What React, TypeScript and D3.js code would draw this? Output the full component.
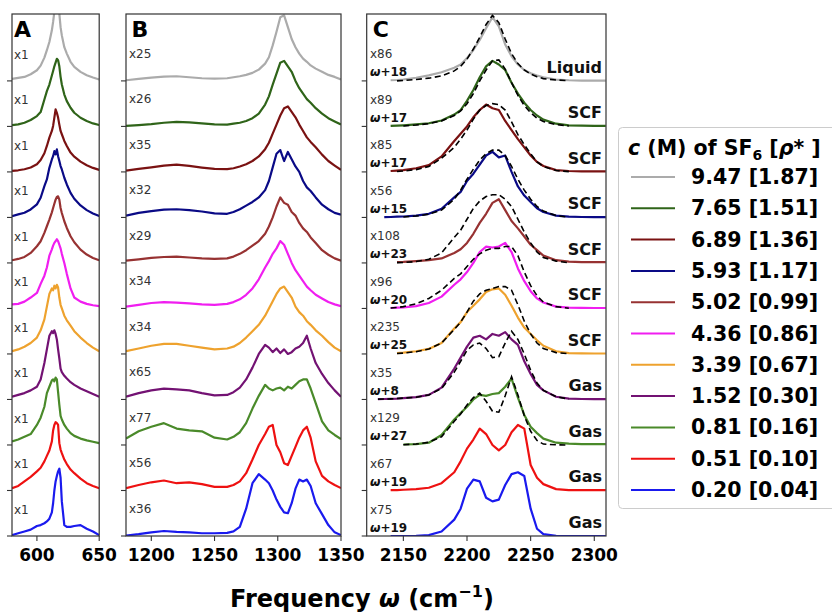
import React from 'react';
import * as d3 from 'd3';

// ---------- DATA ----------
const legendLabels = ['9.47 [1.87]', '7.65 [1.51]', '6.89 [1.36]', '5.93 [1.17]', '5.02 [0.99]', '4.36 [0.86]', '3.39 [0.67]', '1.52 [0.30]', '0.81 [0.16]', '0.51 [0.10]', '0.20 [0.04]'];
const colors = ['#ababab', '#2f6419', '#7a1212', '#0a0a86', '#973232', '#f01ef0', '#eea22e', '#731273', '#4a8a2a', '#ee1111', '#1a1aee'];

const aScaleLabels = ['x1', 'x1', 'x1', 'x1', 'x1', 'x1', 'x1', 'x1', 'x1', 'x1', 'x1'];
const bScaleLabels = ['x25', 'x26', 'x35', 'x32', 'x29', 'x34', 'x34', 'x65', 'x77', 'x56', 'x36'];
const cScaleLabels = ['x86', 'x89', 'x85', 'x56', 'x108', 'x96', 'x235', 'x35', 'x129', 'x67', 'x75'];
const cShiftLabels = ['+18', '+17', '+17', '+15', '+23', '+20', '+25', '+8', '+27', '+19', '+19'];
const phaseLabels = ['Liquid', 'SCF', 'SCF', 'SCF', 'SCF', 'SCF', 'SCF', 'Gas', 'Gas', 'Gas', 'Gas'];

const aTicks = [600, 650];
const bTicks = [1200, 1250, 1300, 1350];
const cTicks = [2150, 2200, 2250, 2300];

// Panel A
const aFreq = [580, 585, 590, 595, 600, 603, 606, 608, 610, 612, 613, 614, 615, 616, 617, 618, 619, 620, 622, 624, 627, 630, 635, 640, 645, 650];
const aGray = [2.2, 3.3, 4.4, 7.3, 11.7, 16.8, 25.6, 33.7, 42.8, 55.6, 64.8, 75.8, 86.7, 92, 88, 74, 59, 50, 37, 30, 21, 15.4, 9.9, 6.2, 3.7, 1.5];
const aGreen = [1.5, 2.2, 4, 7, 11.3, 15.7, 29.6, 38.8, 46, 56, 60.8, 66, 70, 74.3, 72.8, 66, 54.5, 46, 35, 27.8, 20.5, 15, 9.5, 5.9, 3.3, 1.5];
const aDarkRed = [1.1, 1.8, 2.9, 4.8, 8.4, 13, 20.5, 28.5, 37.7, 45, 50.5, 59.7, 68.8, 65, 59.7, 52, 45, 41.4, 34, 28.5, 21.2, 16.8, 11.3, 7.3, 4.4, 2.2];
const aNavy = [1.5, 3.3, 5.1, 8.8, 14.3, 21.6, 34.4, 41.7, 54.5, 63.7, 67.3, 72.8, 69.2, 74.7, 67.3, 61.9, 56.4, 52.7, 43.6, 36.2, 27, 20.5, 13.2, 8, 4.4, 1.5];
const aBrown = [2.9, 4.4, 6.6, 11, 18.3, 23.8, 33, 40.3, 47.6, 55.6, 60.4, 65, 69.5, 72.5, 73.2, 69.5, 60.4, 54.9, 45.8, 38.4, 29.3, 22.7, 14.6, 9.2, 5.5, 2.9];
const aMagenta = [4.4, 5, 7.5, 12, 17, 27, 36, 45, 58, 65, 69, 72, 74, 76, 74, 70, 66, 60, 50, 38, 22, 12, 7.5, 5, 3.5, 2.5];
const aOrange = [3, 5, 8, 12, 18, 26, 38, 52, 66, 72, 70, 75, 72, 76, 73, 62, 54, 50, 42, 37, 31, 25, 18, 12, 7, 3];
const aPurple = [3, 5, 7, 10, 14, 22, 40, 55, 70, 75, 73, 76, 72, 66, 55, 45, 34, 30, 26, 23, 19, 16, 12, 9, 6, 3];
const aGreen2 = [4, 6, 9, 12, 22, 30, 42, 57, 64, 71, 72, 70, 74, 72, 58, 44, 32, 28, 22, 18, 13, 10, 7, 5, 3.5, 2];
const aRed = [2.5, 5, 10, 15, 21, 25, 32, 38, 44, 54, 66, 72, 75, 74, 72, 52, 45, 41, 34, 29, 23, 19, 13, 8, 5, 2.5];
const aBlue = [1, 3, 5, 7, 11, 12, 14, 16, 19, 26, 36, 50, 60, 66, 71, 74, 64, 38, 12, 10, 10, 11, 12, 8, 5, 1];

// Panel B
const bFreq = [1180, 1190, 1200, 1210, 1220, 1230, 1240, 1250, 1260, 1265, 1270, 1275, 1280, 1285, 1290, 1293, 1296, 1299, 1302, 1305, 1308, 1311, 1314, 1317, 1320, 1323, 1326, 1330, 1335, 1340, 1345, 1350];
const bGray = [0.7, 2.2, 3.7, 4.8, 5.1, 4, 2.9, 2.6, 2.9, 4, 5.1, 6.6, 8.8, 12.4, 19, 26, 39, 54, 70, 72, 59, 46, 37, 30, 24.5, 21, 17, 13.5, 10, 6.6, 4.4, 1.5];
const bGreen = [0.5, 1.5, 2.5, 4, 5, 4.4, 3.3, 2.2, 2, 3, 4, 6, 9, 14, 24, 33, 46, 58, 70, 72, 66, 60, 50, 42, 36, 30, 26, 20, 14, 9, 5.5, 2];
const bDarkRed = [1.5, 3.3, 5, 7, 8, 6.6, 4.8, 3.3, 3, 4, 6, 8.5, 12, 17, 25, 32, 42, 52, 62, 70, 72, 66, 60, 52, 45, 38, 33, 27, 19, 12, 7, 2.2];
const bNavy = [2, 5, 7, 8.5, 9, 8, 6.5, 4.5, 4, 6, 9, 13, 17, 22, 30, 40, 55, 70, 74, 62, 72, 64, 56, 50, 40, 33, 29, 22, 14, 9, 5, 3];
const bBrown = [2.5, 4, 5.5, 6.5, 7, 6, 5, 4.5, 5, 7, 10, 14, 19, 24, 32, 40, 50, 62, 72, 66, 64, 56, 52, 44, 38, 34, 28, 22, 14, 9, 5, 2.5];
const bMagenta = [2, 4, 6, 7, 6.5, 5.5, 4.5, 4, 5, 7, 10, 15, 22, 32, 45, 52, 60, 66, 74, 70, 60, 50, 42, 36, 30, 24, 20, 15, 11, 7, 4.5, 2.5];
const bOrange = [3, 6, 9, 11, 11, 9, 7, 5, 6, 8, 12, 18, 25, 32, 42, 50, 58, 66, 72, 74, 68, 62, 52, 46, 42, 36, 32, 26, 20, 13, 7, 3];
const bPurple = [3, 7, 10, 12, 11, 10, 7, 4.5, 5, 8, 13, 22, 35, 50, 60, 57, 52, 56, 51, 55, 50, 52, 56, 58, 62, 70, 56, 40, 28, 18, 10, 3];
const bGreen2 = [7, 15, 20, 24, 18, 16, 15, 8, 6, 9, 14, 24, 40, 54, 66, 62, 60, 62, 63, 60, 64, 62, 66, 70, 72, 72, 62, 46, 26, 16, 11, 6.5];
const bRed = [2.6, 6, 9, 11, 8, 9, 7, 4, 4, 6, 10, 19, 34, 50, 62, 70, 72, 50, 42, 30, 28, 38, 48, 58, 66, 70, 58, 32, 16, 10, 6, 2.6];
const bBlue = [0.5, 2, 4, 5.5, 4.5, 4, 3, 3, 3.5, 5, 10, 30, 58, 68, 62, 58, 50, 40, 32, 26, 25, 36, 52, 62, 60, 62, 55, 36, 24, 12, 4, 1];

// Panel C
const cFreq = [2125, 2130, 2135, 2140, 2145, 2150, 2160, 2170, 2180, 2190, 2195, 2200, 2205, 2210, 2215, 2220, 2225, 2230, 2235, 2240, 2245, 2250, 2255, 2260, 2270, 2280, 2290, 2300, 2309];
const N = null;
const cGray = [N, N, N, 0.7, 1, 1.5, 3.5, 6, 9.5, 14.5, 18, 25, 34, 45, 58, 70, 60, 40, 27, 18, 12, 8.5, 6, 4, 1.5, 0.7, 0.3, 0.2, 0.2];
const cGreen = [N, N, N, 0.5, 0.8, 1.2, 2.2, 3.5, 6.5, 13, 18, 28, 40, 54, 66, 72, 68, 62, 48, 36, 26, 18, 12, 7.5, 3, 1.2, 0.8, 0.6, 0.5];
const cDarkRed = [N, N, N, 1, 1.5, 2, 4, 7.5, 17, 34, 42, 50, 60, 68, 74, 70, 68, 56, 46, 36, 27, 18, 11, 6.5, 2, 1, 0.6, 0.5, 0.5];
const cNavy = [N, N, 0.3, 0.5, 0.8, 1, 2, 4, 9.5, 22, 28, 40, 48, 58, 68, 72, 66, 68, 50, 34, 24, 17, 10, 6, 2, 0.8, 0.5, 0.4, 0.4];
const cBrown = [N, N, N, N, 1, 1.2, 2, 3, 5, 11, 15, 22, 32, 44, 54, 66, 70, 58, 46, 38, 29, 20, 14, 8, 3, 1.5, 1, 0.8, 0.8];
const cMagenta = [N, N, N, 0.5, 0.8, 1.2, 2.5, 6, 13, 26, 32, 40, 50, 62, 68, 67, 68, 72, 62, 44, 30, 19, 11, 6.5, 2, 1, 0.6, 0.5, 0.5];
const cOrange = [N, N, N, N, 1, 1.5, 3, 5.5, 12, 28, 35, 46, 53, 60, 68, 71, 72, 65, 53, 40, 29, 22, 15, 9, 3, 1, 0.6, 0.5, 0.5];
const cPurple = [N, 0.3, 0.5, 0.7, 1, 1.5, 2.5, 5, 13, 34, 46, 58, 68, 70, 66, 72, 70, 74, 66, 60, 42, 28, 16, 10, 3, 1, 0.5, 0.4, 0.4];
const cGreen2 = [N, N, N, N, N, 0.5, 1, 2.5, 11, 28, 35, 42, 50, 55, 54, 56, 57, 64, 73, 52, 33, 20, 13, 7, 2.5, 1.5, 1, 1, 1];
const cRed = [N, N, N, 0.3, 0.5, 0.8, 1.5, 3, 8, 20, 32, 46, 56, 68, 62, 50, 44, 50, 64, 72, 68, 28, 14, 7, 1.5, 0.5, 0.3, 0.3, 0.3];
const cBlue = [N, N, N, 0, 0, 0, 0.3, 1, 5, 18, 30, 52, 62, 60, 42, 38, 40, 56, 68, 70, 66, 30, 8, 2, 0.3, 0, 0, 0, 0];

// Fits (dashed) in panel C
const cGrayFit = [N, N, N, N, 0, 0.5, 1.5, 3, 5.5, 11, 16, 24, 35, 48, 62, 72, 64, 46, 30, 19, 12, 7.5, 4.5, 2.5, 1, 0.3, N, N, N];
const cGreenFit = [N, N, N, N, N, 0.5, 1.5, 3, 6, 12, 17, 25, 36, 50, 62, 72, 73, 63, 48, 34, 23, 15, 9, 5.5, 2, 0.5, N, N, N];
const cDarkRedFit = [N, N, N, N, 0.5, 1, 2.5, 6, 15, 27, 36, 46, 58, 68, 73, 75, 74, 68, 55, 41, 30, 20, 11, 6, 1.5, 0.3, N, N, N];
const cNavyFit = [N, N, N, N, N, 0.5, 1.5, 3.5, 8, 20, 30, 42, 53, 63, 70, 74, 74, 68, 56, 42, 30, 20, 12, 7, 2, 0.3, N, N, N];
const cBrownFit = [N, N, N, N, 0.3, 0.5, 1.5, 4, 11, 28, 36, 48, 60, 68, 73, 75, 75, 70, 62, 48, 34, 22, 12, 6, 2, 0.3, N, N, N];
const cMagentaFit = [N, N, N, 0.5, 1, 2, 5, 11, 20, 33, 38, 46, 54, 60, 64, 66, 66, 68, 68, 58, 40, 25, 14, 7, 2, 0.3, N, N, N];
const cOrangeFit = [N, N, N, N, 0.5, 1, 2.5, 5.5, 12, 27, 35, 46, 58, 66, 70, 72, 74, 74, 70, 54, 36, 22, 12, 6, 1.5, 0.3, N, N, N];
const cPurpleFit = [N, 0.3, 0.5, 0.7, 1, 1.5, 2.5, 5, 12, 30, 42, 54, 60, 62, 56, 46, 47, 62, 75, 66, 50, 32, 18, 10, 3, 0.5, N, N, N];
const cGreen2Fit = [N, N, N, N, N, 0.3, 1, 3, 9, 26, 34, 44, 52, 57, 48, 37, 36, 54, 75, 55, 32, 15, 5, 1, 0.2, 0, N, N, N];
const cRedFit = [N, N, N, N, N, N, N, N, N, N, N, N, N, N, N, N, N, N, N, N, N, N, N, N, N, N, N, N, N];
const cBlueFit = [N, N, N, N, N, N, N, N, N, N, N, N, N, N, N, N, N, N, N, N, N, N, N, N, N, N, N, N, N];

const OFFSET = 50; // vertical stacking offset (a.u.)

const aSeries = [aGray, aGreen, aDarkRed, aNavy, aBrown, aMagenta, aOrange, aPurple, aGreen2, aRed, aBlue];
const bSeries = [bGray, bGreen, bDarkRed, bNavy, bBrown, bMagenta, bOrange, bPurple, bGreen2, bRed, bBlue];
const cSeries = [cGray, cGreen, cDarkRed, cNavy, cBrown, cMagenta, cOrange, cPurple, cGreen2, cRed, cBlue];
const cFits = [cGrayFit, cGreenFit, cDarkRedFit, cNavyFit, cBrownFit, cMagentaFit, cOrangeFit, cPurpleFit, cGreen2Fit, cRedFit, cBlueFit];

// ---------- LAYOUT ----------
const W = 832, H = 615;
const TOP = 14, BOTTOM = 536;
const FONT = 'DejaVu Sans, sans-serif';

type Panel = { key: string; x0: number; x1: number; domain: [number, number]; ticks: number[]; freq: number[]; series: (number | null)[][]; fits?: (number | null)[][] };
const panels: Panel[] = [
  { key: 'A', x0: 12, x1: 99.2, domain: [580, 650], ticks: aTicks, freq: aFreq, series: aSeries },
  { key: 'B', x0: 126, x1: 341, domain: [1180, 1350], ticks: bTicks, freq: bFreq, series: bSeries },
  { key: 'C', x0: 366.7, x1: 606, domain: [2121.2, 2309.2], ticks: cTicks, freq: cFreq, series: cSeries, fits: cFits },
];

const yScale = d3.scaleLinear().domain([0, 11.47 * OFFSET]).range([BOTTOM, TOP]);
const nTr = colors.length;

export default function App() {
  return (
    <svg width={W} height={H} style={{ position: 'absolute', left: 0, top: 0, background: '#fff' }} fontFamily={FONT}>
      <defs>
        {panels.map((p) => (
          <clipPath id={`clip${p.key}`} key={p.key}>
            <rect x={p.x0} y={TOP} width={p.x1 - p.x0} height={BOTTOM - TOP} />
          </clipPath>
        ))}
      </defs>
      {panels.map((p) => {
        const x = d3.scaleLinear().domain(p.domain).range([p.x0, p.x1]);
        const mk = (vals: (number | null)[], off: number) =>
          d3
            .line<number>()
            .defined((_, i) => vals[i] != null)
            .x((_, i) => x(p.freq[i]))
            .y((_, i) => yScale((vals[i] as number) + off))(p.freq as any) || '';
        return (
          <g key={p.key}>
            <g clipPath={`url(#clip${p.key})`}>
              {p.series.map((s, i) => {
                const off = (nTr - 1 - i) * OFFSET;
                return <path key={i} d={mk(s, off)} fill="none" stroke={colors[i]} strokeWidth={2.2} strokeLinejoin="round" />;
              })}
              {p.fits &&
                p.fits.map((s, i) => {
                  const off = (nTr - 1 - i) * OFFSET;
                  return <path key={'f' + i} d={mk(s, off)} fill="none" stroke="#000" strokeWidth={1.6} strokeDasharray="6,3.5" />;
                })}
            </g>
            <rect x={p.x0} y={TOP} width={p.x1 - p.x0} height={BOTTOM - TOP} fill="none" stroke="#333" strokeWidth={1.2} />
            {d3.range(nTr).map((k) => (
              <line key={'yt' + k} x1={p.x0 - 5} x2={p.x0} y1={yScale(k * OFFSET)} y2={yScale(k * OFFSET)} stroke="#333" strokeWidth={1.1} />
            ))}
            {p.ticks.map((t) => (
              <g key={'xt' + t}>
                <line x1={x(t)} x2={x(t)} y1={BOTTOM} y2={BOTTOM + 5} stroke="#333" strokeWidth={1.1} />
                <text x={x(t)} y={561} textAnchor="middle" fontSize={17} fontWeight="bold" fill="#000">
                  {t}
                </text>
              </g>
            ))}
            <text x={p.x0 + (p.key === 'C' ? 6 : p.key === 'B' ? 5.5 : 2)} y={37} fontSize={22} fontWeight="bold" fill="#000">
              {p.key}
            </text>
          </g>
        );
      })}

      {aScaleLabels.map((lab, i) => (
        <text key={'al' + i} x={14} y={yScale((nTr - 1 - i) * OFFSET) - 22} fontSize={12} fill="#333">
          {lab}
        </text>
      ))}
      {bScaleLabels.map((lab, i) => (
        <text key={'bl' + i} x={129} y={yScale((nTr - 1 - i) * OFFSET) - 23} fontSize={12} fill="#333">
          {lab}
        </text>
      ))}
      {cScaleLabels.map((lab, i) => {
        const yb = yScale((nTr - 1 - i) * OFFSET);
        return (
          <g key={'cl' + i}>
            <text x={370} y={yb - 22.5} fontSize={12} fill="#333">
              {lab}
            </text>
            <text x={370} y={yb - 4.5} fontSize={12} fontWeight="bold" fill="#111">
              <tspan fontStyle="italic">ω</tspan>
              {cShiftLabels[i]}
            </text>
            <text x={602} y={yb - 8} fontSize={16} fontWeight="bold" textAnchor="end" fill="#111">
              {phaseLabels[i]}
            </text>
          </g>
        );
      })}

      <text x={362} y={607} textAnchor="middle" fontSize={24} fontWeight="bold" fill="#000">
        Frequency <tspan fontStyle="italic">ω</tspan> (cm
        <tspan dy={-10} fontSize={16}>−1</tspan>
        <tspan dy={10}>)</tspan>
      </text>

      <g>
        <rect x={618.5} y={127.5} width={240} height={381} rx={4} fill="#fff" stroke="#cccccc" strokeWidth={1} />
        <text x={628} y={155} fontSize={20.5} fontWeight="bold" fill="#000">
          <tspan fontStyle="italic">c</tspan> (M) of SF
          <tspan fontSize={14} dy={5}>6</tspan>
          <tspan dy={-5}> [</tspan>
          <tspan fontStyle="italic">ρ</tspan>* ]
        </text>
        {legendLabels.map((lab, i) => {
          const ly = 177 + i * 31.3;
          return (
            <g key={'lg' + i}>
              <line x1={631} x2={675} y1={ly} y2={ly} stroke={colors[i]} strokeWidth={2} />
              <text x={691} y={ly + 7} fontSize={20.5} fontWeight="bold" fill="#000">
                {lab}
              </text>
            </g>
          );
        })}
      </g>
    </svg>
  );
}
